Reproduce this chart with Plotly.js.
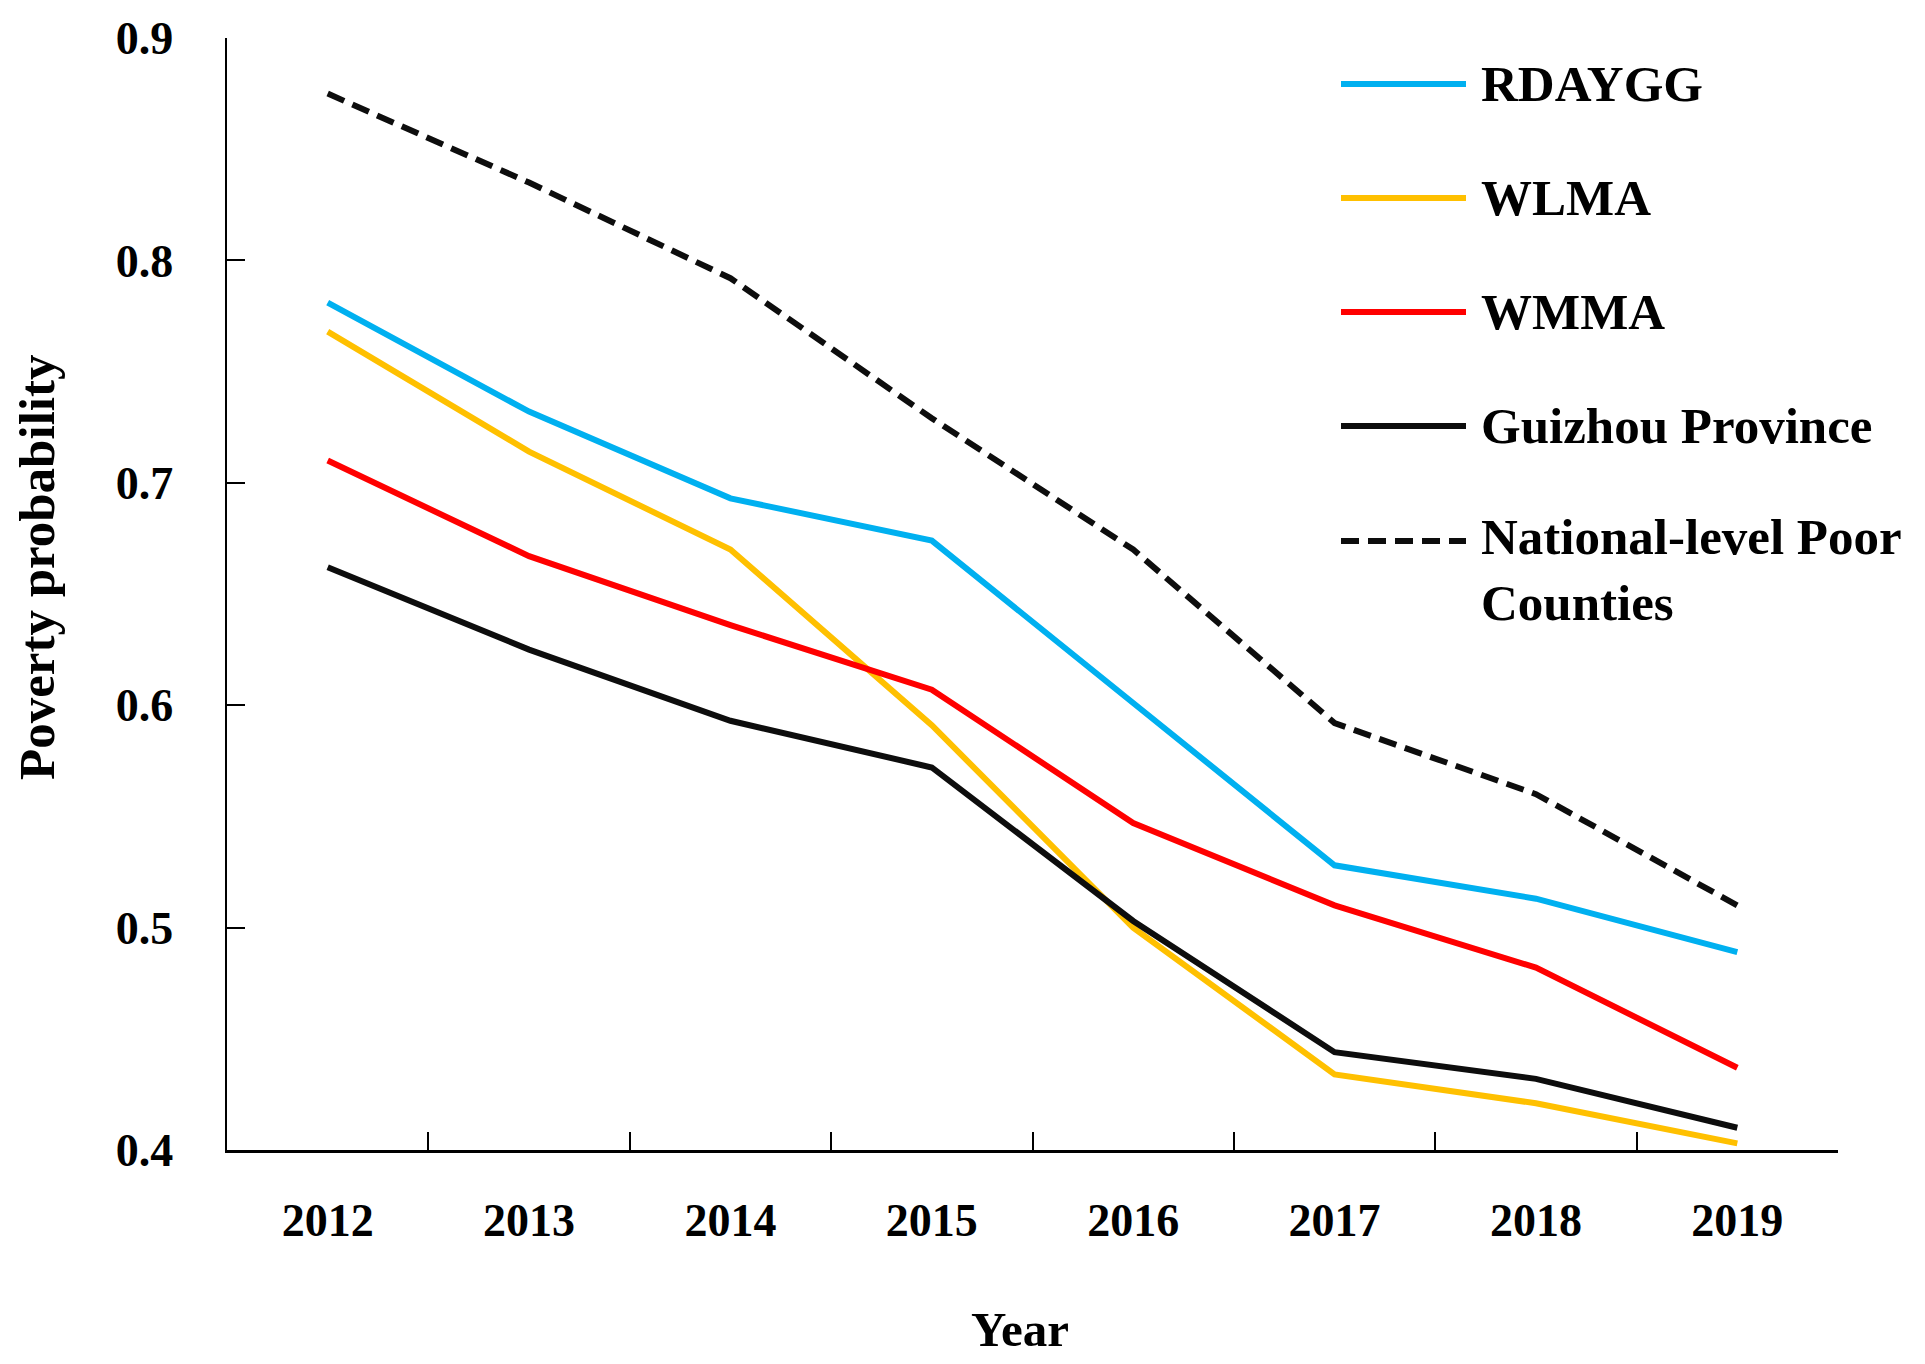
<!DOCTYPE html>
<html>
<head>
<meta charset="utf-8">
<script src="https://cdn.plot.ly/plotly-3.0.1.min.js"></script>
<style>html,body{margin:0;padding:0;background:#fff;}#chart{width:1925px;height:1364px;}</style>
</head>
<body>
<div id="chart"></div>
<script>
const years = ['2012', '2013', '2014', '2015', '2016', '2017', '2018', '2019'];
const rdaygg = [0.781, 0.732, 0.693, 0.674, 0.601, 0.528, 0.513, 0.489];
const wlma = [0.768, 0.714, 0.670, 0.591, 0.500, 0.434, 0.421, 0.403];
const wmma = [0.710, 0.667, 0.636, 0.607, 0.547, 0.510, 0.482, 0.437];
const guizhou = [0.662, 0.625, 0.593, 0.572, 0.503, 0.444, 0.432, 0.410];
const national = [0.875, 0.835, 0.792, 0.729, 0.670, 0.592, 0.560, 0.510];

const seriesNames = ['RDAYGG', 'WLMA', 'WMMA', 'Guizhou Province', 'National-level Poor<br>Counties'];
const seriesValues = [rdaygg, wlma, wmma, guizhou, national];
const seriesColors = ['#00B0F0', '#FFC000', '#FF0000', '#0D0D0D', '#0D0D0D'];
const seriesDash = ['solid', 'solid', 'solid', 'solid', '18px,9px'];
const xTitle = 'Year';
const yTitle = 'Poverty probability';

const FONT = 'Liberation Serif, Times New Roman, serif';

const traces = seriesValues.map((vals, i) => ({
  type: 'scatter',
  mode: 'lines',
  x: years,
  y: vals,
  name: seriesNames[i].replace('<br>', ' '),
  line: {color: seriesColors[i], width: 6, dash: seriesDash[i]},
  showlegend: false,
  hoverinfo: 'x+y+name'
}));

// manual legend (long line samples like the reference)
const L = 227, R = 1838, T = 38, B = 1150;
const px = v => (v - L) / (R - L);
const py = v => (B - v) / (B - T);
const rowY = [84, 198, 312, 426, 541];
const shapes = [];
const annotations = [];
seriesNames.forEach((nm, i) => {
  shapes.push({
    type: 'line', xref: 'paper', yref: 'paper',
    x0: px(1341), x1: px(1466), y0: py(rowY[i]), y1: py(rowY[i]),
    line: {color: seriesColors[i], width: 6, dash: seriesDash[i]}
  });
  const multi = nm.indexOf('<br>') >= 0;
  annotations.push({
    xref: 'paper', yref: 'paper',
    x: px(1480), y: multi ? py(rowY[i] - 33) : py(rowY[i]),
    xanchor: 'left', yanchor: multi ? 'top' : 'middle',
    align: 'left', showarrow: false, borderpad: 0,
    text: nm,
    font: {family: FONT, size: 51, color: '#000', weight: 'bold'}
  });
});

// axis titles placed as in the reference
annotations.push({
  xref: 'paper', yref: 'paper', x: px(1020), y: py(1330),
  xanchor: 'center', yanchor: 'middle', showarrow: false,
  text: xTitle, font: {family: FONT, size: 49, color: '#000', weight: 'bold'}
});
annotations.push({
  xref: 'paper', yref: 'paper', x: px(37), y: py(568),
  xanchor: 'center', yanchor: 'middle', showarrow: false, textangle: -90,
  text: yTitle, font: {family: FONT, size: 51, color: '#000', weight: 'bold'}
});

const layout = {
  width: 1925, height: 1364,
  margin: {l: L, r: 1925 - R, t: T, b: 1364 - B, pad: 0},
  paper_bgcolor: '#fff', plot_bgcolor: '#fff',
  font: {family: FONT, color: '#000', weight: 'bold'},
  xaxis: {
    type: 'category',
    range: [-0.5, 7.5],
    tickson: 'boundaries',
    ticks: 'inside', ticklen: 18, tickwidth: 2, tickcolor: '#000',
    showline: true, linecolor: '#000', linewidth: 2.5,
    showgrid: false, zeroline: false,
    tickfont: {family: FONT, size: 46, color: '#000', weight: 'bold'},
    ticklabelstandoff: 28
  },
  yaxis: {
    range: [0.4, 0.9],
    dtick: 0.1, tick0: 0.4, tickformat: '.1f',
    ticks: 'inside', ticklen: 18, tickwidth: 2, tickcolor: '#000',
    showline: true, linecolor: '#000', linewidth: 2.5,
    showgrid: false, zeroline: false,
    tickfont: {family: FONT, size: 46, color: '#000', weight: 'bold'},
    ticklabelstandoff: 42
  },
  shapes: shapes,
  annotations: annotations
};

Plotly.newPlot('chart', traces, layout, {displayModeBar: false, staticPlot: true});
</script>
</body>
</html>
